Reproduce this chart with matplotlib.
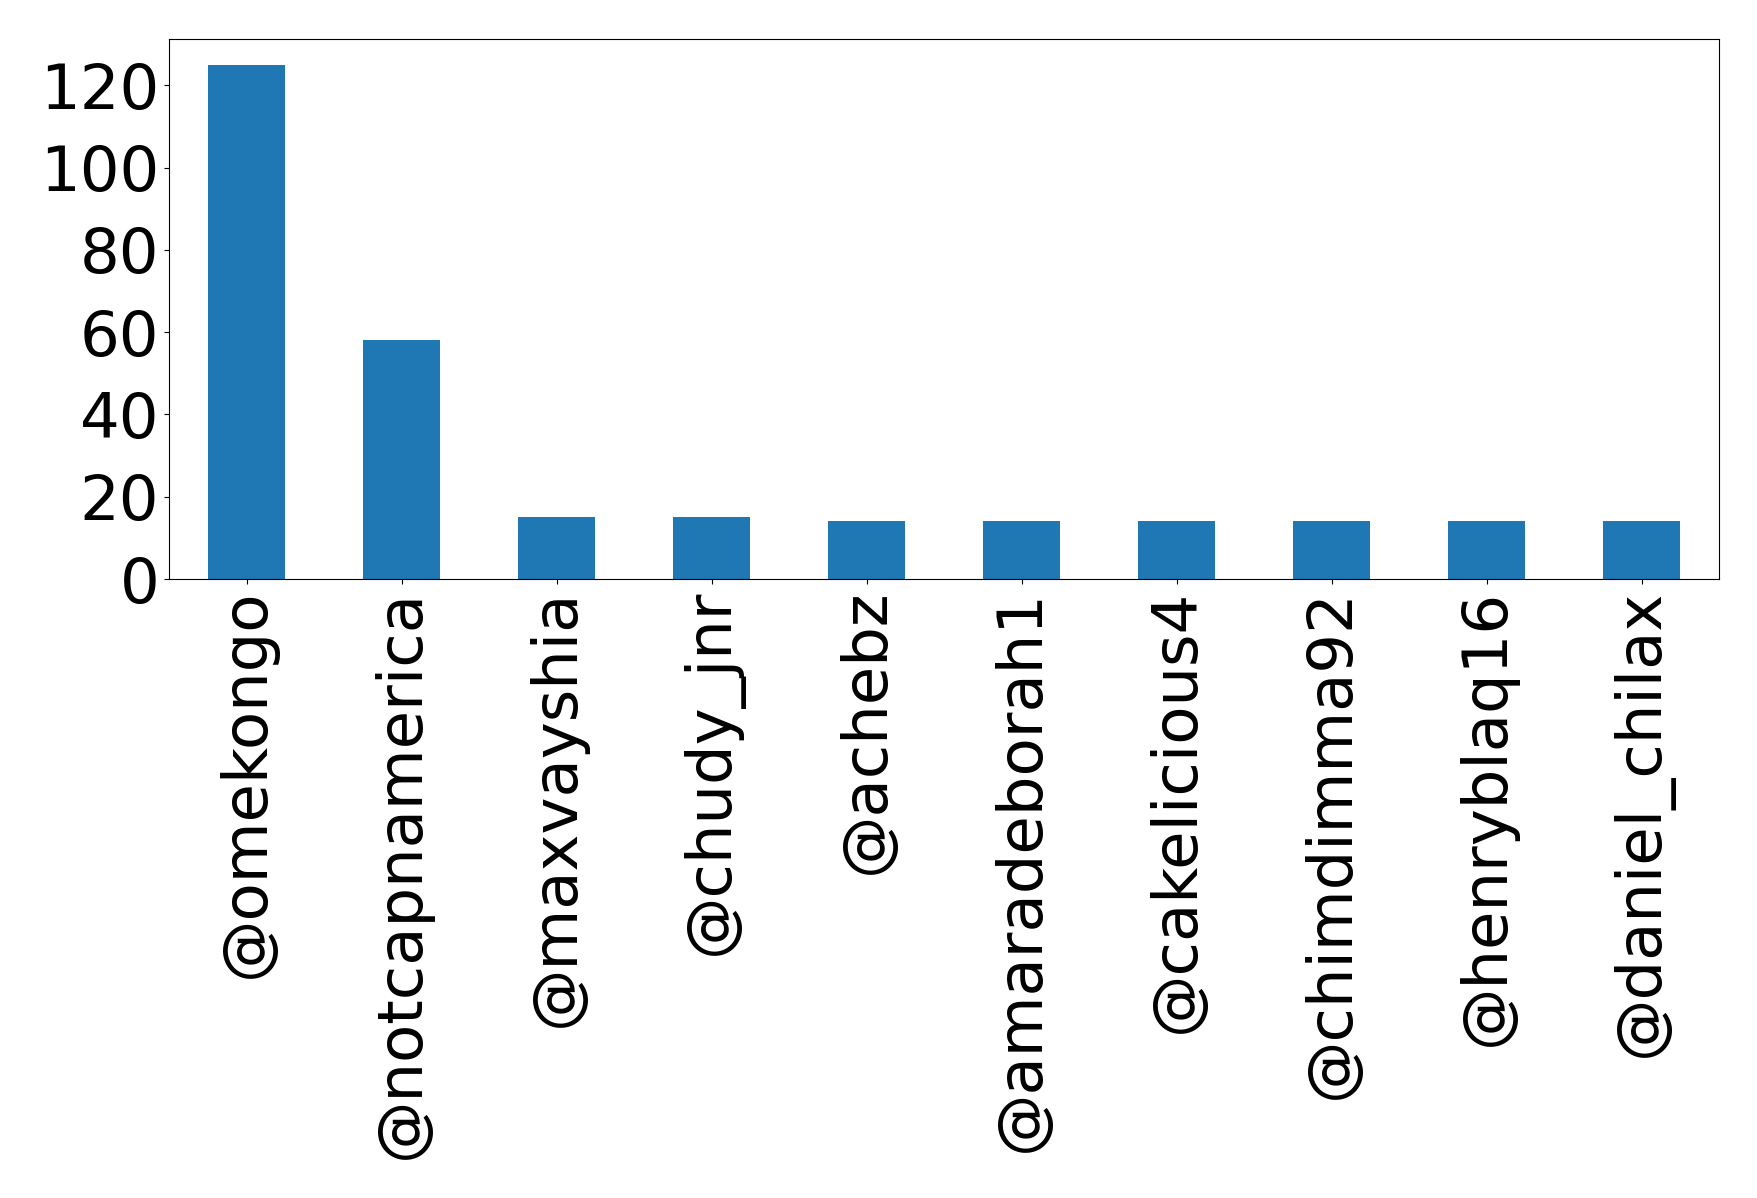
import matplotlib
matplotlib.use("Agg")
import matplotlib.pyplot as plt
import numpy as np

users = ["@omekongo", "@notcapnamerica", "@maxvayshia", "@chudy_jnr", "@achebz",
         "@amaradeborah1", "@cakelicious4", "@chimdimma92", "@henryblaq16", "@daniel_chilax"]
counts = [125, 58, 15, 15, 14, 14, 14, 14, 14, 14]

fig = plt.figure(figsize=(17.58, 11.98), dpi=100)
ax = fig.add_axes([169/1758, 1-579/1198, (1719-169)/1758, (579-39)/1198])
x = np.arange(len(users))
ax.bar(x, counts, width=0.5, color="#1f77b4")
ax.set_xlim(-0.5, len(users)-0.5)
ax.set_xticks(x)
ax.set_xticklabels(users, rotation=90)
ax.tick_params(labelsize=45)
ax.set_yticks([0, 20, 40, 60, 80, 100, 120])
fig.savefig("out.png", dpi=100)
